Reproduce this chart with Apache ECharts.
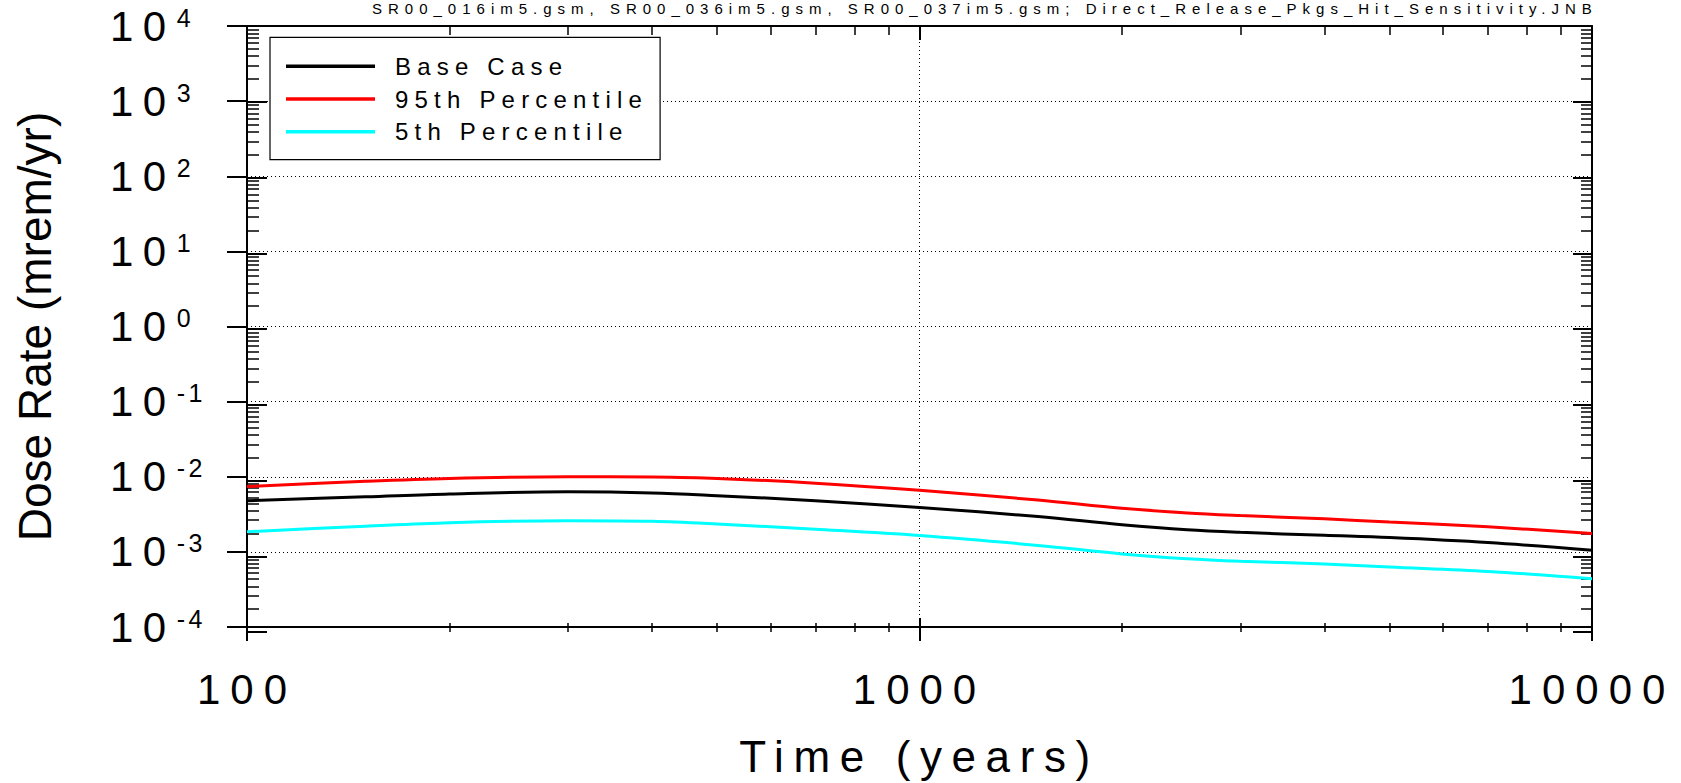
<!DOCTYPE html>
<html>
<head>
<meta charset="utf-8">
<script src="https://cdn.jsdelivr.net/npm/echarts@6/dist/echarts.min.js"></script>
<style>
html, body { margin: 0; padding: 0; background: #fff; }
#chart { width: 1681px; height: 783px; }
text[style*="spx10"] { letter-spacing: 10px; }
text[style*="spyb"] { letter-spacing: 9.5px; }
text[style*="spye"] { letter-spacing: 3.5px; }
text[style*="spnm"] { letter-spacing: 9.6px; }
text[style*="splg"] { letter-spacing: 6.2px; }
text[style*="sptt"] { letter-spacing: 6px; }
</style>
</head>
<body>
<div id="chart"></div>
<script>
// ---- data ----
const timeYears = [100, 150, 200, 300, 400, 500, 700, 1000, 1500, 2000, 2500, 3000, 4000, 5000, 7000, 10000];
const baseCase  = [4.8e-3, 5.4e-3, 5.9e-3, 6.3e-3, 6.1e-3, 5.6e-3, 4.8e-3, 3.9e-3, 2.95e-3, 2.3e-3, 1.97e-3, 1.82e-3, 1.66e-3, 1.55e-3, 1.33e-3, 1.05e-3];
const pct95     = [7.4e-3, 8.7e-3, 9.5e-3, 1.0e-2, 9.9e-3, 9.5e-3, 8.2e-3, 6.6e-3, 4.9e-3, 3.8e-3, 3.3e-3, 3.05e-3, 2.75e-3, 2.5e-3, 2.16e-3, 1.75e-3];
const pct5      = [1.85e-3, 2.2e-3, 2.45e-3, 2.6e-3, 2.55e-3, 2.35e-3, 2.0e-3, 1.65e-3, 1.22e-3, 9.4e-4, 8.1e-4, 7.5e-4, 6.9e-4, 6.3e-4, 5.5e-4, 4.4e-4];
const seriesNames = ['Base Case', '95th Percentile', '5th Percentile'];
const seriesColors = ['#000000', '#ff0000', '#00ffff'];
const xTickValues = [100, 1000, 10000];
const xTickLabels = ['100', '1000', '10000'];
const yTickExponents = ['-4', '-3', '-2', '-1', '0', '1', '2', '3', '4'];
const yMinExp = -4, yMaxExp = 4;
const titleText = 'SR00_016im5.gsm, SR00_036im5.gsm, SR00_037im5.gsm; Direct_Release_Pkgs_Hit_Sensitivity.JNB';
const xName = 'Time (years)';
const yName = 'Dose Rate (mrem/yr)';

// minor tick positions (2..9 within each decade)
function minorValues(e0, e1) {
  const out = [];
  for (let e = e0; e < e1; e++) for (let m = 2; m <= 9; m++) out.push(+(m * Math.pow(10, e)).toPrecision(6));
  return out;
}
const xMinors = minorValues(2, 4);
const yMinors = minorValues(yMinExp, yMaxExp);

const F = tag => "'Liberation Sans', Arial, " + tag;
const G = { left: 247, right: 89, top: 26, bottom: 151 };
const black = '#000';

function xAx(i, pos, opts) {
  return Object.assign({
    type: 'log', logBase: 10, gridIndex: i, min: 100, max: 10000, position: pos,
    axisLine: { show: false }, axisLabel: { show: false }, splitLine: { show: false },
    axisTick: { show: false }
  }, opts);
}
function yAx(i, pos, opts) {
  return Object.assign({
    type: 'log', logBase: 10, gridIndex: i, min: Math.pow(10, yMinExp), max: Math.pow(10, yMaxExp), position: pos,
    axisLine: { show: false }, axisLabel: { show: false }, splitLine: { show: false },
    axisTick: { show: false }
  }, opts);
}

const chart = echarts.init(document.getElementById('chart'), null, { renderer: 'svg' });
chart.setOption({
  animation: false,
  backgroundColor: '#fff',
  title: {
    text: titleText, left: 372, top: 0, padding: 0,
    textStyle: { fontSize: 15, lineHeight: 16, fontWeight: 'normal', fontFamily: F('sptt'), color: black }
  },
  legend: {
    data: seriesNames, orient: 'vertical', left: 270, top: 37.3,
    icon: 'rect', itemWidth: 89, itemHeight: 3.5, itemGap: 8.7,
    padding: [17, 105, 16, 16], borderColor: black, borderWidth: 1.2, backgroundColor: '#fff',
    selectedMode: false, z: 10,
    textStyle: { fontSize: 24, lineHeight: 24, fontFamily: F('splg'), color: black, padding: [0, 0, 0, 15] }
  },
  grid: [0, 1, 2, 3, 4].map(() => Object.assign({}, G)),
  xAxis: [
    xAx(0, 'bottom', {
      axisLine: { show: true, lineStyle: { color: black, width: 2 } },
      axisTick: { show: true, inside: false, length: 14, lineStyle: { color: black, width: 2 } },
      axisLabel: {
        show: true, margin: 41, fontSize: 42, fontFamily: F('spx10'), color: black,
        showMinLabel: true, showMaxLabel: true,
        formatter: v => { const k = xTickValues.indexOf(Math.round(v)); return k >= 0 ? xTickLabels[k] : ''; }
      },
      splitLine: { show: true, lineStyle: { type: [1, 3], color: black, width: 1 } },
      name: xName, nameLocation: 'middle', nameGap: 107,
      nameTextStyle: { fontSize: 44, fontFamily: F('spnm'), color: black }
    }),
    xAx(1, 'bottom', { axisTick: { show: true, inside: true, length: 14, lineStyle: { color: black, width: 2 } } }),
    xAx(2, 'bottom', { axisTick: { show: true, inside: true, length: 9, customValues: xMinors, lineStyle: { color: black, width: 1.5 } } }),
    xAx(3, 'top', {
      axisLine: { show: true, lineStyle: { color: black, width: 2 } },
      axisTick: { show: true, inside: true, length: 14, lineStyle: { color: black, width: 2 } }
    }),
    xAx(4, 'top', { axisTick: { show: true, inside: true, length: 9, customValues: xMinors, lineStyle: { color: black, width: 1.5 } } })
  ],
  yAxis: [
    yAx(0, 'left', {
      axisLine: { show: true, lineStyle: { color: black, width: 2 } },
      axisTick: { show: true, inside: false, length: 20, lineStyle: { color: black, width: 2 } },
      axisLabel: {
        show: true, align: 'left', margin: 137,
        showMinLabel: true, showMaxLabel: true,
        formatter: v => {
          const e = Math.round(Math.log10(v));
          return '{b|10}{e|' + yTickExponents[e - yMinExp] + '}';
        },
        rich: {
          b: { fontSize: 42, lineHeight: 42, fontFamily: F('spyb'), color: black, padding: [0, 20, 0, 0] },
          e: { fontSize: 25, lineHeight: 25, verticalAlign: 'top', fontFamily: F('spye'), color: black }
        }
      },
      splitLine: { show: true, lineStyle: { type: [1, 3], color: black, width: 1 } },
      name: yName, nameLocation: 'middle', nameGap: 189,
      nameTextStyle: { fontSize: 46, fontFamily: "'Liberation Sans', Arial", color: black }
    }),
    yAx(1, 'left', { axisTick: { show: true, inside: true, length: 20, lineStyle: { color: black, width: 2 } } }),
    yAx(2, 'left', { axisTick: { show: true, inside: true, length: 12, customValues: yMinors, lineStyle: { color: black, width: 1.5 } } }),
    yAx(3, 'right', {
      axisLine: { show: true, lineStyle: { color: black, width: 2 } },
      axisTick: { show: true, inside: true, length: 19, lineStyle: { color: black, width: 2 } }
    }),
    yAx(4, 'right', { axisTick: { show: true, inside: true, length: 11, customValues: yMinors, lineStyle: { color: black, width: 1.5 } } })
  ],
  series: [baseCase, pct95, pct5].map((arr, k) => ({
    name: seriesNames[k], type: 'line', xAxisIndex: 0, yAxisIndex: 0,
    data: timeYears.map((t, i) => [t, arr[i]]),
    smooth: 0.35, showSymbol: false, symbol: 'none',
    color: seriesColors[k],
    lineStyle: { color: seriesColors[k], width: 3 }
  }))
});
</script>
</body>
</html>
